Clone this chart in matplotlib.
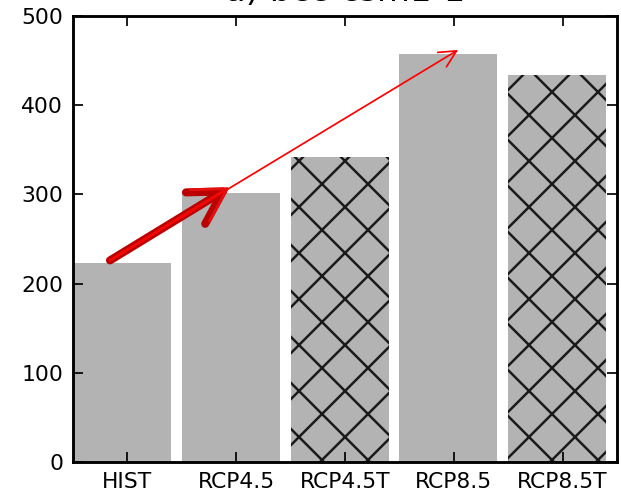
import numpy as np
import matplotlib
matplotlib.use("Agg")
import matplotlib.pyplot as plt

# data
labels = ["HIST", "RCP4.5", "RCP4.5T", "RCP8.5", "RCP8.5T"]
values = [223, 302, 342, 457, 434]
hatched = [False, False, True, False, True]

# arrow anchors (data coords)
arrow_start = (0.34, 226)
thick_end = (1.44, 308)
thin_end = (3.54, 462)

plt.rcParams["hatch.color"] = "#1a1a1a"
plt.rcParams["hatch.linewidth"] = 1.3

dpi = 138
fig = plt.figure(figsize=(621 / dpi, 492 / dpi), dpi=dpi)
ax = fig.add_axes([73 / 621, 1 - 462 / 492, (617 - 73) / 621, (462 - 16) / 492])

x = np.arange(len(labels))
for xi, v, h in zip(x, values, hatched):
    ax.bar(xi, v, width=0.9, align="edge", color="#b3b3b3", linewidth=0,
           hatch="x" if h else None)

ax.set_xlim(0, len(labels))
ax.set_ylim(0, 500)
ax.set_xticks(x + 0.5)
ax.set_xticklabels(labels)
ax.set_yticks(np.arange(0, 501, 100))

ax.tick_params(direction="in", top=True, right=True, length=5.2, width=0.9,
               labelsize=11.4, pad=5.2)
for s in ax.spines.values():
    s.set_linewidth(1.5)

# thick arrow
ax.annotate("", xy=thick_end, xytext=arrow_start,
            arrowprops=dict(arrowstyle="->,head_length=0.45,head_width=0.26",
                            color="#bb0000", lw=4.2, mutation_scale=37,
                            shrinkA=0, shrinkB=0))
ax.annotate("", xy=thick_end, xytext=arrow_start,
            arrowprops=dict(arrowstyle="->,head_length=0.45,head_width=0.26",
                            color="#e41010", lw=1.5, mutation_scale=37,
                            shrinkA=0, shrinkB=0))
# thin arrow
ax.annotate("", xy=thin_end, xytext=arrow_start,
            arrowprops=dict(arrowstyle="->,head_length=0.4,head_width=0.2",
                            color="red", lw=0.9, mutation_scale=22,
                            shrinkA=0, shrinkB=0))

ax.set_title("a) bcc-csm1-1", fontsize=17.7, pad=7.6)

fig.savefig("out.png", dpi=dpi)
